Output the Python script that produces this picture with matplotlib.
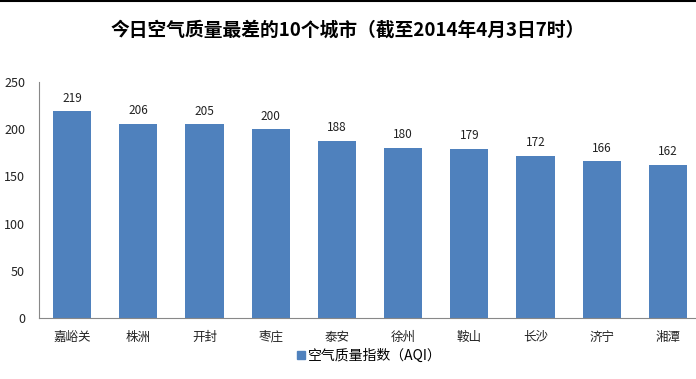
import matplotlib
matplotlib.use("Agg")
import matplotlib.pyplot as plt
from matplotlib.lines import Line2D

plt.rcParams['font.family'] = ['Noto Sans CJK SC', 'DejaVu Sans']

cities = ["嘉峪关", "株洲", "开封", "枣庄", "泰安", "徐州", "鞍山", "长沙", "济宁", "湘潭"]
aqi = [219, 206, 205, 200, 188, 180, 179, 172, 166, 162]
yticks = [0, 50, 100, 150, 200, 250]

bar_color = "#4F81BD"

fig = plt.figure(figsize=(6.96, 3.79), dpi=100)
ax = fig.add_axes([39 / 696, 1 - 318 / 379, 662 / 696, 236 / 379])

x = range(len(cities))
ax.bar(x, aqi, width=0.58, color=bar_color)
for xi, v in zip(x, aqi):
    ax.text(xi, v + 7, str(v), ha="center", va="bottom", fontsize=8.5, color="#222222")

ax.set_xlim(-0.5, len(cities) - 0.5)
ax.set_ylim(0, 250)
ax.set_yticks(yticks)
ax.set_xticks(list(x))
ax.set_xticklabels(cities, fontsize=9)
ax.tick_params(axis="both", length=0, labelsize=9, colors="#222222")
ax.tick_params(axis="x", pad=9)
ax.tick_params(axis="y", pad=10)

for s in ["top", "right"]:
    ax.spines[s].set_visible(False)
ax.spines["left"].set_color("#888888")
ax.spines["bottom"].set_color("#888888")

fig.text(0.5, 1 - 30 / 379, "今日空气质量最差的10个城市（截至2014年4月3日7时）",
         ha="center", va="center", fontsize=13.5, fontweight="bold")

handle = Line2D([], [], marker="s", linestyle="none", color=bar_color, markersize=6)
fig.legend([handle], ["空气质量指数（AQI）"], loc="center", bbox_to_anchor=(0.53, 1 - 356 / 379),
           frameon=False, fontsize=10, handletextpad=0.1, handlelength=0.8)

# black border line at the top
fig.add_artist(Line2D([0, 1], [0.998, 0.998], color="black", lw=1.5))

fig.savefig("out.png", dpi=100)
